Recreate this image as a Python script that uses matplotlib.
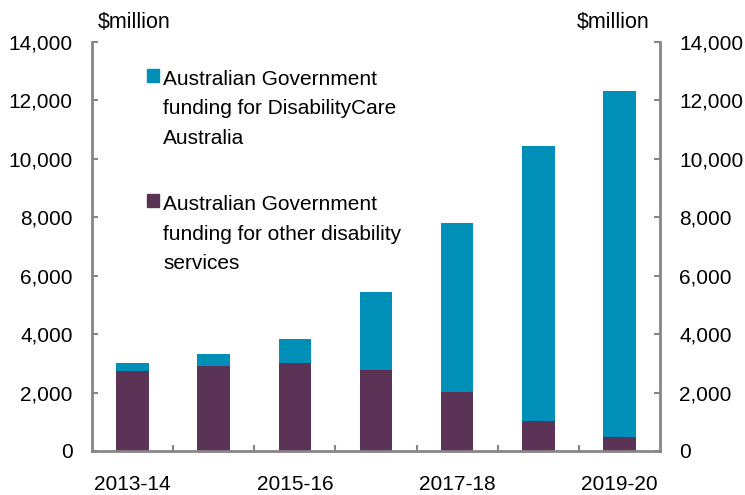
import numpy as np
import matplotlib
matplotlib.use('Agg')
import matplotlib.pyplot as plt
from matplotlib.patches import Rectangle

plt.rcParams['font.family'] = ['Liberation Sans', 'DejaVu Sans']

# Data ($million)
years = ['2013-14', '2014-15', '2015-16', '2016-17', '2017-18', '2018-19', '2019-20']
other_services = [2750, 2920, 3000, 2760, 2020, 1040, 470]
disabilitycare = [250, 400, 825, 2690, 5790, 9405, 11850]

blue = '#008fb7'
purple = '#5a3357'
grey = '#868686'

W, H = 745, 495
fig = plt.figure(figsize=(W / 100, H / 100), dpi=100)
ax = fig.add_axes([92 / W, 1 - 451 / H, (660 - 92) / W, (451 - 42) / H])

x = np.arange(len(years))
ax.bar(x, other_services, width=0.4, color=purple, edgecolor='none')
ax.bar(x, disabilitycare, width=0.4, bottom=other_services,
       color=blue, edgecolor='none')

ax.set_xlim(-0.5, len(years) - 0.5)
ax.set_ylim(0, 14000)
ax.set_yticks(np.arange(0, 14001, 2000))
ax.yaxis.set_major_formatter(matplotlib.ticker.StrMethodFormatter('{x:,.0f}'))

# only every second year labelled, tick marks between the bars
ax.set_xticks(x[::2])
ax.set_xticklabels(years[::2])
ax.set_xticks(x[:-1] + 0.5, minor=True)
ax.tick_params(axis='x', which='major', length=0, pad=17, labelsize=15)
ax.tick_params(axis='x', which='minor', direction='in', length=4,
               width=1.5, color=grey)
ax.tick_params(axis='y', direction='in', length=4, width=1.5, color=grey,
               labelsize=15, pad=14, right=True, labelright=True)

for side in ['left', 'right', 'bottom']:
    ax.spines[side].set_color(grey)
    ax.spines[side].set_linewidth(2)
ax.spines['top'].set_visible(False)

fig.text(98 / W, 1 - 22 / H, '$million', fontsize=15.5, va='center', ha='left')
fig.text(650 / W, 1 - 22 / H, '$million', fontsize=15.5, va='center', ha='right')

# legend drawn by hand so the swatch sits by the first line
legend_items = [
    (blue, 'Australian Government\nfunding for DisabilityCare\nAustralia', 69),
    (purple, 'Australian Government\nfunding for other disability\nservices', 194),
]
for color, label, top in legend_items:
    fig.patches.append(Rectangle((147 / W, 1 - (top + 13) / H), 12 / W, 13 / H,
                                 transform=fig.transFigure, color=color))
    fig.text(163 / W, 1 - (top + 1) / H, label, fontsize=15, va='top',
             ha='left', linespacing=1.7)

plt.savefig('out.png', dpi=100)
